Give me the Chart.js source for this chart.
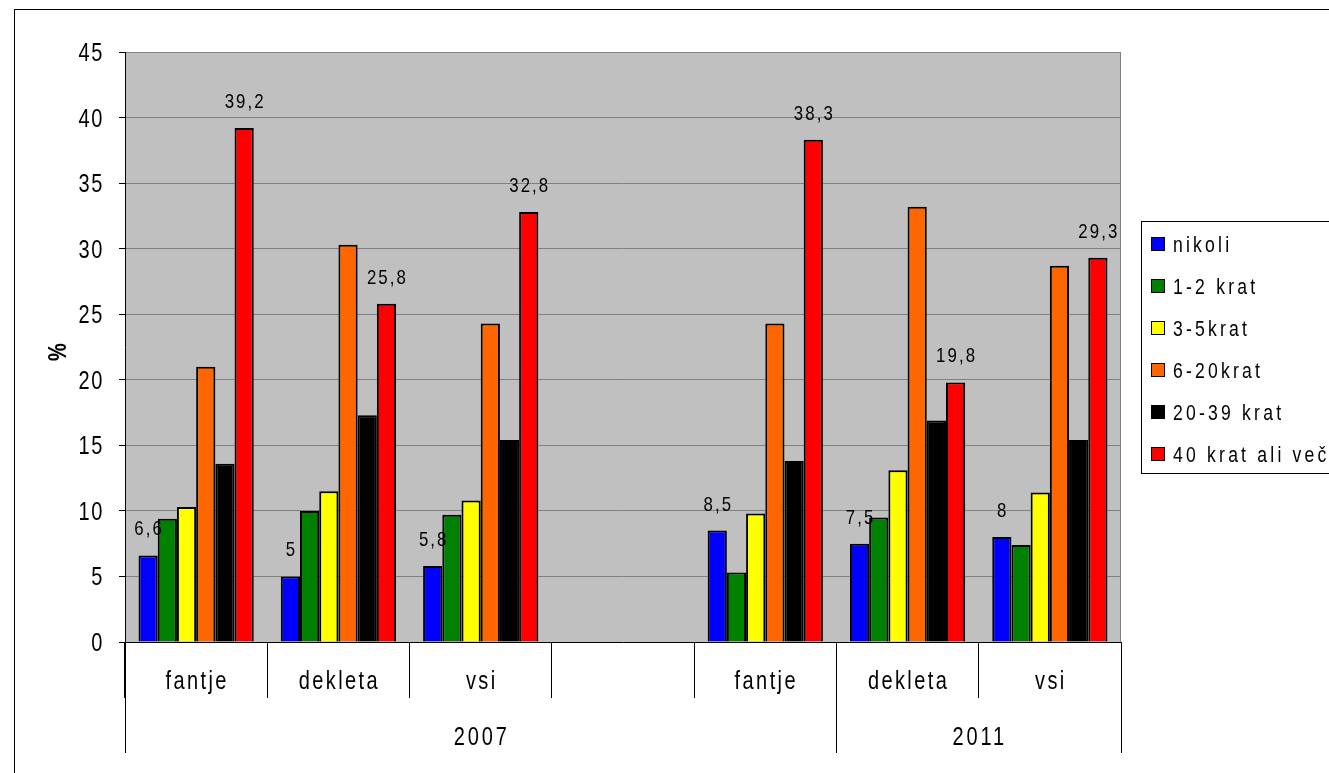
<!DOCTYPE html>
<html>
<head>
<meta charset="utf-8">
<title>Pogostost</title>
<script src="https://cdn.jsdelivr.net/npm/chart.js@4.4.1/dist/chart.umd.min.js"></script>
<style>
  html, body { margin: 0; padding: 0; background: #ffffff; }
  #chart { display: block; }
</style>
</head>
<body>
<canvas id="chart" width="1329" height="773"></canvas>
<script>
"use strict";

const categories = ["fantje", "dekleta", "vsi", "", "fantje", "dekleta", "vsi"];
const groupLabels = ["2007", "2011"];
const groupSizes = [5, 2];

const seriesNames = ["nikoli", "1-2 krat", "3-5krat", "6-20krat", "20-39 krat", "40 krat ali več"];
const nikoli = [6.6, 5, 5.8, null, 8.5, 7.5, 8];
const krat1to2 = [9.4, 10.0, 9.7, null, 5.3, 9.5, 7.4];
const krat3to5 = [10.3, 11.5, 10.8, null, 9.8, 13.1, 11.4];
const krat6to20 = [21.0, 30.3, 24.3, null, 24.3, 33.2, 28.7];
const krat20to39 = [13.6, 17.3, 15.4, null, 13.8, 16.9, 15.4];
const krat40plus = [39.2, 25.8, 32.8, null, 38.3, 19.8, 29.3];
const labelledSeries = ["nikoli", "40 krat ali več"];

const yTicks = [0, 5, 10, 15, 20, 25, 30, 35, 40, 45];
const yTitle = "%";

const seriesColors = ["#0000ff", "#008000", "#ffff00", "#ff6600", "#000000", "#ff0000"];
const seriesValues = [nikoli, krat1to2, krat3to5, krat6to20, krat20to39, krat40plus];

// the original text is a narrow, letter-spaced Arial; no narrow font is installed,
// so text is squeezed horizontally
const FONT = "'Liberation Sans', Arial, sans-serif";
const SQUEEZE = 0.8;

function fmt(v) {
  return String(v).replace(".", ",");
}

function narrowText(ctx, text, x, y, o) {
  ctx.save();
  ctx.font = (o.weight || "normal") + " " + o.size + "px " + FONT;
  ctx.letterSpacing = o.spacing + "px";
  ctx.fillStyle = "#000000";
  ctx.textAlign = o.align || "center";
  ctx.textBaseline = "alphabetic";
  ctx.translate(x, y);
  if (o.rotate) ctx.rotate(o.rotate);
  ctx.scale(SQUEEZE, 1);
  ctx.fillText(text, 0, 0);
  ctx.restore();
}

// white page + outer frame + grey plot area
const backgroundPlugin = {
  id: "background",
  beforeDraw(chart) {
    const { ctx, chartArea: a } = chart;
    ctx.save();
    ctx.fillStyle = "#ffffff";
    ctx.fillRect(0, 0, chart.width, chart.height);
    ctx.strokeStyle = "#000000";
    ctx.lineWidth = 1;
    ctx.strokeRect(14.5, 9.5, 3000, 3000);
    ctx.fillStyle = "#c0c0c0";
    ctx.fillRect(a.left, a.top, a.right - a.left, a.bottom - a.top);
    ctx.restore();
  },
  beforeDatasetsDraw(chart) {
    const { ctx, chartArea: a } = chart;
    ctx.save();
    ctx.strokeStyle = "#808080";
    ctx.lineWidth = 1;
    ctx.beginPath();
    ctx.moveTo(a.right - 0.5, a.top);
    ctx.lineTo(a.right - 0.5, a.bottom);
    ctx.stroke();
    ctx.restore();
  },
};

// value labels above blue and red bars
const valueLabelsPlugin = {
  id: "valueLabels",
  afterDatasetsDraw(chart) {
    const { ctx } = chart;
    chart.data.datasets.forEach((ds, di) => {
      if (!labelledSeries.includes(ds.label)) return;
      const meta = chart.getDatasetMeta(di);
      meta.data.forEach((bar, i) => {
        const v = ds.data[i];
        if (v === null || v === undefined) return;
        narrowText(ctx, fmt(v), bar.x + 1, bar.y - 20, { size: 21, spacing: 2.6 });
      });
    });
  },
};

// tick labels, axis title and the second (year) level of the category axis
const axisLabelsPlugin = {
  id: "axisLabels",
  afterDraw(chart) {
    const { ctx } = chart;
    const x = chart.scales.x;
    const y = chart.scales.y;

    y.ticks.forEach((t) => {
      narrowText(ctx, String(t.value), y.right - 21, y.getPixelForValue(t.value) + 9, {
        size: 25, spacing: 2, align: "right",
      });
    });
    narrowText(ctx, yTitle, 66, (y.top + y.bottom) / 2 + 5, {
      size: 25, spacing: 0, weight: "bold", rotate: -Math.PI / 2,
    });

    categories.forEach((c, i) => {
      narrowText(ctx, c, x.getPixelForValue(i) + 1, x.top + 47, { size: 25, spacing: 3 });
    });

    const w = (x.right - x.left) / categories.length;
    let start = 0;
    const edges = [0];
    groupSizes.forEach((n, gi) => {
      const x0 = x.left + start * w;
      const x1 = x.left + (start + n) * w;
      narrowText(ctx, groupLabels[gi], (x0 + x1) / 2 + 1, x.top + 103, { size: 25, spacing: 3.5 });
      start += n;
      edges.push(start);
    });
    ctx.save();
    ctx.strokeStyle = "#000000";
    ctx.lineWidth = 1;
    ctx.beginPath();
    edges.forEach((k) => {
      const px = Math.round(x.left + k * w) + 0.5;
      ctx.moveTo(px, x.top);
      ctx.lineTo(px, x.top + 111);
    });
    ctx.stroke();
    ctx.restore();
  },
};

// boxed legend on the right
const boxLegendPlugin = {
  id: "boxLegend",
  afterDraw(chart) {
    const { ctx } = chart;
    ctx.save();
    ctx.strokeStyle = "#000000";
    ctx.lineWidth = 1;
    ctx.strokeRect(1141.5, 221.5, 400, 252);
    chart.data.datasets.forEach((ds, i) => {
      const cy = 244 + i * 42;
      ctx.fillStyle = ds.backgroundColor;
      ctx.fillRect(1151, cy - 7, 14, 14);
      ctx.strokeRect(1151.5, cy - 6.5, 13, 13);
      narrowText(ctx, ds.label, 1173, cy + 8, { size: 22, spacing: 4, align: "left" });
    });
    ctx.restore();
  },
};

const datasets = seriesNames.map((name, i) => ({
  label: name,
  data: seriesValues[i],
  backgroundColor: seriesColors[i],
  borderColor: "#000000",
  borderWidth: 2,
  borderSkipped: "bottom",
  categoryPercentage: 0.81,
  barPercentage: 1.0,
}));

new Chart(document.getElementById("chart"), {
  type: "bar",
  data: { labels: categories, datasets },
  options: {
    responsive: false,
    animation: false,
    devicePixelRatio: 1,
    layout: { padding: { left: 0, right: 208, top: 52, bottom: 0 } },
    plugins: {
      legend: { display: false },
      title: { display: false },
      tooltip: { enabled: false },
    },
    scales: {
      x: {
        offset: true,
        afterFit(scale) {
          scale.height = 131;
        },
        grid: {
          offset: true,
          drawOnChartArea: false,
          drawTicks: true,
          tickLength: 56,
          color: "#000000",
        },
        border: { color: "#000000", width: 1 },
        ticks: { display: false, autoSkip: false },
      },
      y: {
        min: 0,
        max: 45,
        afterFit(scale) {
          scale.width = 125;
        },
        afterBuildTicks(scale) {
          scale.ticks = yTicks.map((v) => ({ value: v }));
        },
        grid: {
          color: "#808080",
          tickColor: "#000000",
          tickLength: 6,
        },
        border: { color: "#000000", width: 1 },
        ticks: { display: false },
      },
    },
  },
  plugins: [backgroundPlugin, valueLabelsPlugin, axisLabelsPlugin, boxLegendPlugin],
});
</script>
</body>
</html>
